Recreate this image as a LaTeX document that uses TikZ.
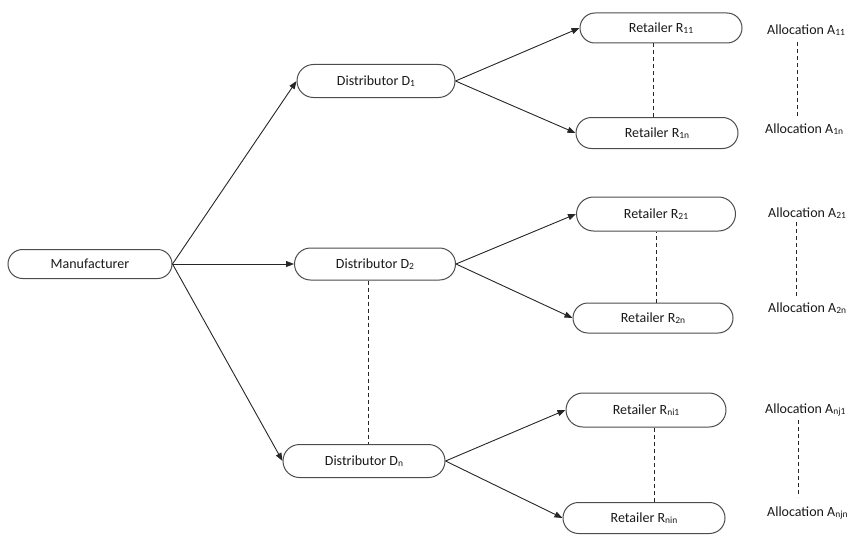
\documentclass[tikz,border=0pt]{standalone}
\usepackage{fontspec}
\setmainfont{Carlito}
\usetikzlibrary{shapes.misc,arrows.meta}
\newcommand{\sbs}[1]{\raisebox{-0.2ex}{\fontsize{9.5}{9.5}\selectfont #1}}
\begin{document}
\begin{tikzpicture}[x=1pt,y=-1pt,
  box/.style={rounded rectangle,draw=black!70,line width=1pt,inner sep=0pt,
    minimum height=30pt,font=\fontsize{14}{16}\selectfont,text=black!90},
  alloc/.style={anchor=west,inner sep=0pt,font=\fontsize{14}{16}\selectfont,text=black!90},
  arr/.style={-{Triangle[length=8pt,width=6pt]},line width=0.9pt,black!85},
  dsh/.style={dash pattern=on 4pt off 3pt,line width=0.9pt,black!85}]
\useasboundingbox (0,0) rectangle (864,535);
\node[box,minimum width=164pt,minimum height=29pt] (man) at (90,264) {Manufacturer};
\node[box,minimum width=158pt,minimum height=33pt] (d1) at (376,81) {Distributor D\sbs{1}};
\node[box,minimum width=161pt,minimum height=32pt] (d2) at (375,264) {Distributor D\sbs{2}};
\node[box,minimum width=162pt,minimum height=33pt] (dn) at (364,461) {Distributor D\sbs{n}};
\node[box,minimum width=162pt] (r11) at (661,28) {Retailer R\sbs{11}};
\node[box,minimum width=162pt,minimum height=31pt] (r1n) at (657,133) {Retailer R\sbs{1n}};
\node[box,minimum width=159pt,minimum height=34pt] (r21) at (656,214) {Retailer R\sbs{21}};
\node[box,minimum width=160pt] (r2n) at (653,318) {Retailer R\sbs{2n}};
\node[box,minimum width=160pt,minimum height=34pt] (rn1) at (646,410) {Retailer R\sbs{ni1}};
\node[box,minimum width=162pt,minimum height=31pt] (rnn) at (644,518) {Retailer R\sbs{nin}};
\node[alloc] (a11) at (767,30) {Allocation A\sbs{11}};
\node[alloc] (a1n) at (765,129) {Allocation A\sbs{1n}};
\node[alloc] (a21) at (768,213) {Allocation A\sbs{21}};
\node[alloc] (a2n) at (768,308) {Allocation A\sbs{2n}};
\node[alloc] (an1) at (765,410) {Allocation A\sbs{nj1}};
\node[alloc] (ann) at (767,513) {Allocation A\sbs{njn}};
\coordinate (ca1t) at (797,42); \coordinate (ca1b) at (797,117);
\coordinate (ca2t) at (796,222); \coordinate (ca2b) at (796,298);
\coordinate (ca3t) at (798,420); \coordinate (ca3b) at (798,497);
\draw[arr] (man.east) -- (d1.west);
\draw[arr] (man.east) -- (d2.west);
\draw[arr] (man.east) -- (dn.west);
\draw[arr] (d1.east) -- (r11.west);
\draw[arr] (d1.east) -- (r1n.west);
\draw[arr] (d2.east) -- (r21.west);
\draw[arr] (d2.east) -- (r2n.west);
\draw[arr] (dn.east) -- (rn1.west);
\draw[arr] (dn.east) -- (rnn.west);
\draw[dsh] ([xshift=-4pt]r1n.north) -- ([xshift=-4pt]r1n.north |- r11.south);
\draw[dsh] ([xshift=3pt]r2n.north) -- ([xshift=3pt]r2n.north |- r21.south);
\draw[dsh] ([xshift=10pt]rnn.north) -- ([xshift=10pt]rnn.north |- rn1.south);
\draw[dsh] ([xshift=-7pt]d2.south) -- ([xshift=-7pt]d2.south |- dn.north);
\draw[dsh] (ca1t) -- (ca1b);
\draw[dsh] (ca2t) -- (ca2b);
\draw[dsh] (ca3t) -- (ca3b);
\end{tikzpicture}
\end{document}
